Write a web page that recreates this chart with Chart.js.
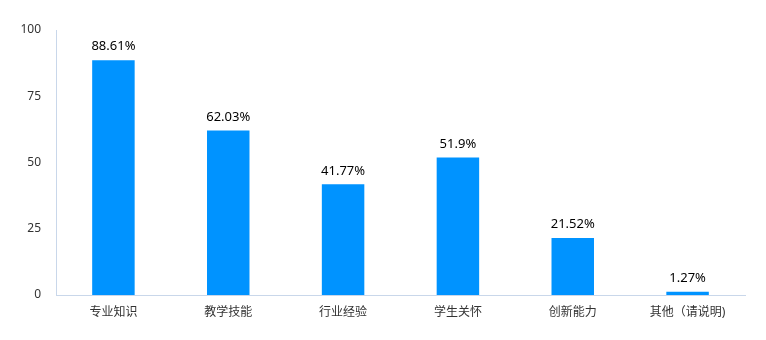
<!DOCTYPE html>
<html><head><meta charset="utf-8">
<script src="https://cdn.jsdelivr.net/npm/chart.js@4/dist/chart.umd.min.js"></script>
<style>html,body{margin:0;padding:0;background:#fff}#wrap{width:766px;height:340px}</style>
</head><body><div id="wrap"><canvas id="c" width="766" height="340"></canvas></div>
<script>
const categories = ['专业知识','教学技能','行业经验','学生关怀','创新能力','其他（请说明)'];
const values = [88.61, 62.03, 41.77, 51.9, 21.52, 1.27];
const yTicks = [0, 25, 50, 75, 100];
const FONT = "'Noto Sans','Noto Sans CJK SC','Microsoft YaHei',sans-serif";

const labelPlugin = {
  id: 'valLabels',
  afterDatasetsDraw(chart) {
    const ctx = chart.ctx;
    const meta = chart.getDatasetMeta(0);
    ctx.save();
    ctx.font = "13px " + FONT;
    ctx.fillStyle = '#000';
    ctx.textAlign = 'center';
    ctx.textBaseline = 'bottom';
    meta.data.forEach((bar, i) => {
      ctx.fillText(values[i] + '%', bar.x, bar.y - 7);
    });
    ctx.restore();
  }
};

new Chart(document.getElementById('c'), {
  type: 'bar',
  data: {
    labels: categories,
    datasets: [{ data: values, backgroundColor: '#0093ff', barPercentage: 0.37, categoryPercentage: 1 }]
  },
  options: {
    responsive: false,
    animation: false,
    layout: { padding: { top: 30, right: 21, left: 0, bottom: 0 } },
    plugins: { legend: { display: false }, tooltip: { enabled: false } },
    scales: {
      x: {
        grid: { display: false, drawTicks: false },
        border: { display: true, color: '#c9d7ea' },
        ticks: { color: '#333', font: { size: 12, family: FONT }, padding: 10, maxRotation: 0, autoSkip: false },
        afterFit(s) { s.height = 45; }
      },
      y: {
        min: 0, max: 100,
        afterBuildTicks(s) { s.ticks = yTicks.map(v => ({ value: v })); },
        grid: { display: false, drawTicks: false },
        border: { display: true, color: '#c9d7ea' },
        ticks: { color: '#333', font: { size: 12, family: FONT }, padding: 15 },
        afterFit(s) { s.width = 56; }
      }
    }
  },
  plugins: [labelPlugin]
});
</script></body></html>
